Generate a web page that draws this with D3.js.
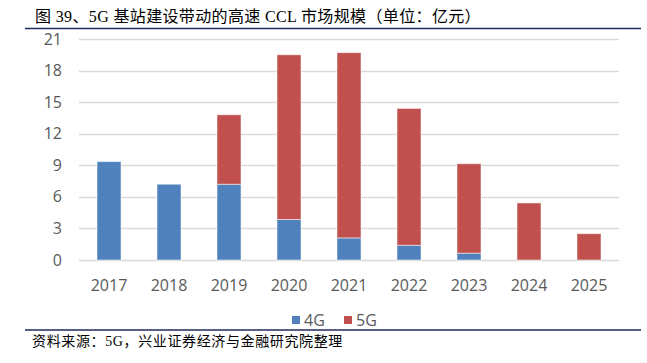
<!DOCTYPE html>
<html><head><meta charset="utf-8">
<script src="https://cdn.jsdelivr.net/npm/d3@7"></script>
<style>body{margin:0;background:#fff}svg{display:block}</style>
</head><body>
<svg id="c" width="647" height="363"></svg>
<script>
const years = ["2017","2018","2019","2020","2021","2022","2023","2024","2025"];
const v4G = [9.35, 7.2, 7.2, 3.85, 2.1, 1.4, 0.65, 0, 0];
const v5G = [0, 0, 6.6, 15.65, 17.6, 13.0, 8.5, 5.42, 2.5];
const yTicks = [0,3,6,9,12,15,18,21];
const seriesNames = ["4G","5G"];
const colors = ["#4F81BD","#C0504D"];
const title = "图 39、5G 基站建设带动的高速 CCL 市场规模（单位：亿元）";
const source = "资料来源：5G，兴业证券经济与金融研究院整理";

const svg = d3.select("#c");
const L = 79, R = 619, T = 39, B = 260;
const x = d3.scaleBand().domain(years).range([L, R]).paddingInner(0.6).paddingOuter(0.3);
const y = d3.scaleLinear().domain([0,21]).range([B, T]);
const sans = "'Open Sans','Noto Sans',sans-serif";
const serif = "'Liberation Serif','Noto Sans CJK SC',serif";

function fitText(sel, target){
  const n = sel.text().length;
  const w = sel.node().getComputedTextLength();
  sel.attr("letter-spacing", ((target - w) / n).toFixed(2));
}

// title
const tt = svg.append("text").attr("x",35).attr("y",22)
  .attr("font-family",serif).attr("font-size",16).attr("fill","#000").text(title);
fitText(tt, 446);
svg.append("line").attr("x1",25).attr("x2",641).attr("y1",28.5).attr("y2",28.5)
  .attr("stroke","#1F2A5C").attr("stroke-width",1.5);

// grid
svg.append("g").selectAll("line").data(yTicks).join("line")
  .attr("x1",L).attr("x2",R).attr("y1",d=>Math.round(y(d))+0.5).attr("y2",d=>Math.round(y(d))+0.5)
  .attr("stroke","#D9D9D9").attr("stroke-width",1.3);

// y axis labels
const ya = svg.append("g").attr("transform",`translate(62,0)`)
  .call(d3.axisLeft(y).tickValues(yTicks).tickSize(0).tickPadding(0));
ya.select(".domain").remove();
ya.selectAll("text").attr("font-family",sans).attr("font-size",16).attr("fill","#595959").attr("x",0);

// x axis labels
const xa = svg.append("g").attr("transform",`translate(0,${B})`)
  .call(d3.axisBottom(x).tickSize(0).tickPadding(0));
xa.select(".domain").remove();
xa.selectAll("text").attr("font-family",sans).attr("font-size",16).attr("fill","#595959")
  .attr("dy",null).attr("y",31);

// stacked bars
const rows = years.map((yr,i)=>({year:yr,"4G":v4G[i],"5G":v5G[i]}));
const stack = d3.stack().keys(seriesNames)(rows);
svg.append("g").selectAll("g").data(stack).join("g")
  .attr("fill",(d,i)=>colors[i])
  .selectAll("rect").data(d=>d.filter(p=>p[1]-p[0]>0)).join("rect")
  .attr("x",d=>x(d.data.year)).attr("width",x.bandwidth())
  .attr("y",d=>y(d[1])).attr("height",d=>y(d[0])-y(d[1]))
  .attr("stroke","rgba(255,255,255,0.5)").attr("stroke-width",1);

// legend
const lg = svg.append("g");
const lx = [292, 344];
seriesNames.forEach((n,i)=>{
  lg.append("rect").attr("x",lx[i]).attr("y",316).attr("width",8).attr("height",8).attr("fill",colors[i]);
  lg.append("text").attr("x",lx[i]+12).attr("y",325.5)
    .attr("font-family",sans).attr("font-size",16).attr("fill","#595959").text(n);
});

// bottom line & source
svg.append("line").attr("x1",25).attr("x2",641).attr("y1",330).attr("y2",330)
  .attr("stroke","#1F2A5C").attr("stroke-width",1.5);
const st = svg.append("text").attr("x",32).attr("y",346)
  .attr("font-family",serif).attr("font-size",14).attr("fill","#000").text(source);
fitText(st, 311);
</script>
</body></html>
